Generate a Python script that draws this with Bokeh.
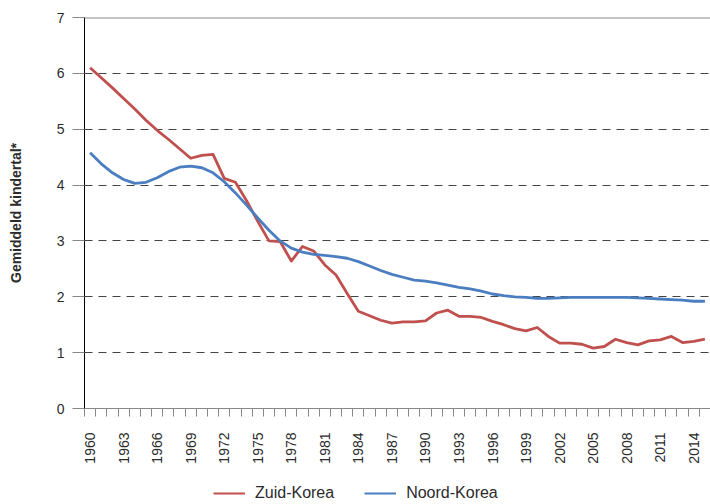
from math import pi
from bokeh.plotting import figure
from bokeh.layouts import column
from bokeh.models import ColumnDataSource, FixedTicker, Span, Legend, LegendItem
from bokeh.embed import file_html
from bokeh.resources import INLINE

years = list(range(1960, 2016))
zuid_korea = [6.10, 5.92, 5.74, 5.55, 5.36, 5.16, 4.98, 4.82, 4.65, 4.48,
              4.53, 4.55, 4.12, 4.05, 3.72, 3.35, 3.00, 2.99, 2.64, 2.90,
              2.82, 2.57, 2.39, 2.06, 1.74, 1.66, 1.58, 1.53, 1.55, 1.55,
              1.57, 1.71, 1.76, 1.65, 1.65, 1.63, 1.56, 1.50, 1.43, 1.39,
              1.45, 1.29, 1.17, 1.17, 1.15, 1.08, 1.11, 1.24, 1.18, 1.14,
              1.21, 1.23, 1.29, 1.18, 1.20, 1.24]
noord_korea = [4.58, 4.38, 4.22, 4.10, 4.03, 4.05, 4.13, 4.24, 4.32, 4.34,
               4.31, 4.22, 4.06, 3.86, 3.64, 3.41, 3.19, 3.00, 2.87, 2.80,
               2.76, 2.74, 2.72, 2.69, 2.63, 2.55, 2.47, 2.40, 2.35, 2.30,
               2.28, 2.25, 2.21, 2.17, 2.14, 2.10, 2.05, 2.02, 2.00, 1.99,
               1.97, 1.97, 1.98, 1.99, 1.99, 1.99, 1.99, 1.99, 1.99, 1.98,
               1.97, 1.96, 1.95, 1.94, 1.92, 1.92]
x_tick_years = list(range(1960, 2015, 3))
y_ticks = [0, 1, 2, 3, 4, 5, 6, 7]
grid_ticks = [1, 2, 3, 4, 5, 6]
series_names = ["Zuid-Korea", "Noord-Korea"]
colors = ["#C0504D", "#4A7EC0"]

FONT = "Liberation Sans"
TXT = "#2b2b2b"

src = ColumnDataSource(dict(year=years, zuid=zuid_korea, noord=noord_korea))

p = figure(width=710, height=466, output_backend="svg", toolbar_location=None,
           x_range=(years[0] - 0.5, years[-1] + 0.5), y_range=(0, 7),
           min_border_left=84, min_border_right=0, min_border_top=17,
           min_border_bottom=57)
p.outline_line_color = None
p.background_fill_color = "white"
p.border_fill_color = "white"

p.xgrid.visible = False
p.ygrid.ticker = FixedTicker(ticks=grid_ticks)
p.ygrid.grid_line_color = "#444444"
p.ygrid.grid_line_dash = "8 6"
p.ygrid.grid_line_width = 1

p.add_layout(Span(location=7, dimension="width", line_color="#8a8a8a", line_width=2))

# y axis
p.yaxis.ticker = FixedTicker(ticks=y_ticks, minor_ticks=[])
p.yaxis.axis_line_color = "black"
p.yaxis.major_tick_line_color = "#888888"
p.yaxis.major_tick_out = 12
p.yaxis.major_tick_in = 0
p.yaxis.minor_tick_out = 0
p.yaxis.minor_tick_in = 0
p.yaxis.major_label_standoff = 8
p.yaxis.major_label_text_font = FONT
p.yaxis.major_label_text_font_size = "14px"
p.yaxis.major_label_text_color = TXT
p.yaxis.axis_label = "Gemiddeld kindertal*"
p.yaxis.axis_label_text_font = FONT
p.yaxis.axis_label_text_font_style = "bold"
p.yaxis.axis_label_text_font_size = "14px"
p.yaxis.axis_label_text_color = TXT
p.yaxis.axis_label_standoff = 30

# x axis
p.xaxis.ticker = FixedTicker(ticks=x_tick_years,
                             minor_ticks=[y - 0.5 for y in years] + [years[-1] + 0.5])
p.xaxis.axis_line_color = "#888888"
p.xaxis.major_tick_out = 0
p.xaxis.major_tick_in = 0
p.xaxis.minor_tick_out = 8
p.xaxis.minor_tick_in = 0
p.xaxis.minor_tick_line_color = "#888888"
p.xaxis.major_label_orientation = pi / 2
p.xaxis.major_label_standoff = 16
p.xaxis.major_label_text_font = FONT
p.xaxis.major_label_text_font_size = "14px"
p.xaxis.major_label_text_color = TXT

p.line("year", "zuid", source=src, line_color=colors[0], line_width=2.8, line_join="round")
p.line("year", "noord", source=src, line_color=colors[1], line_width=2.8, line_join="round")

# legend strip below the chart (its lines fall outside its own ranges; only the legend shows)
lg = figure(width=710, height=38, output_backend="svg", toolbar_location=None,
            x_range=(0, 1), y_range=(0, 1), min_border=0,
            x_axis_location=None, y_axis_location=None)
lg.grid.visible = False
lg.outline_line_color = None
lg.background_fill_color = "white"
lg.border_fill_color = "white"
r1 = lg.line("year", "zuid", source=src, line_color=colors[0], line_width=2)
r2 = lg.line("year", "noord", source=src, line_color=colors[1], line_width=2)
legend = Legend(items=[LegendItem(label=series_names[0], renderers=[r1]),
                       LegendItem(label=series_names[1], renderers=[r2])],
                orientation="horizontal", location=(129, 1),
                padding=0, margin=0, spacing=30, glyph_width=32, glyph_height=20,
                label_standoff=10, border_line_color=None,
                background_fill_alpha=0, label_text_font=FONT,
                label_text_font_size="16px", label_text_color=TXT)
lg.add_layout(legend, "center")

layout = column(p, lg, spacing=0)
open("out.html", "w").write(file_html(layout, INLINE))
